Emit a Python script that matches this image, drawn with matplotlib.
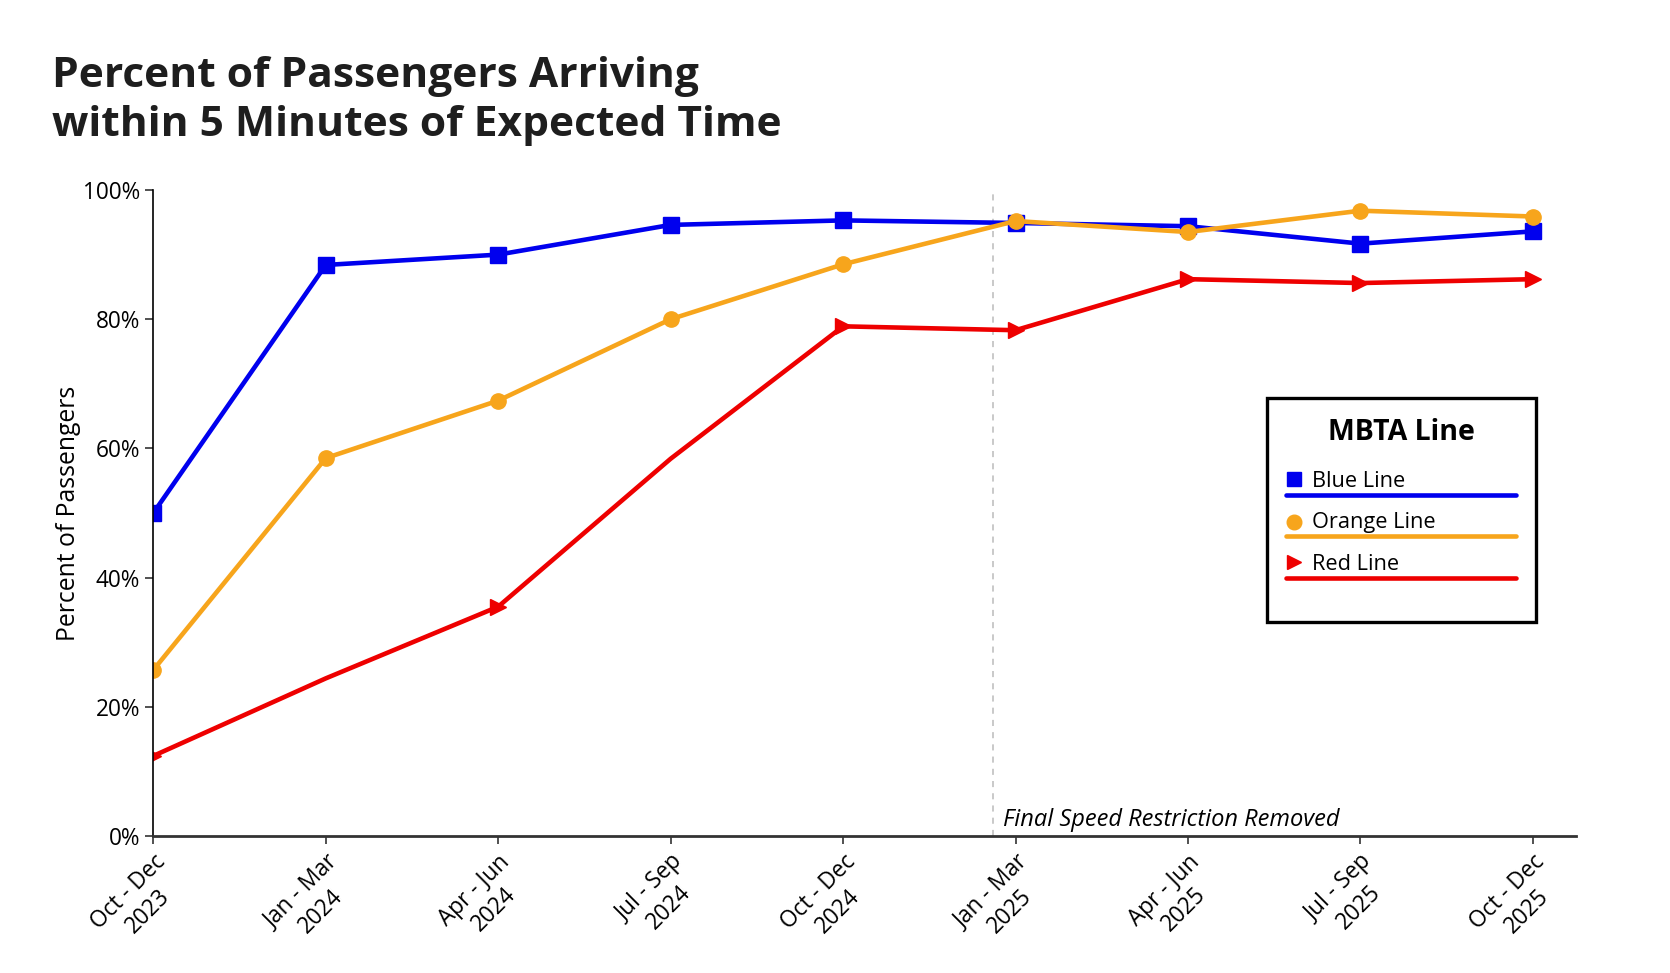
import matplotlib.pyplot as plt
from matplotlib.patches import Rectangle

plt.rcParams['font.family'] = ['Open Sans', 'DejaVu Sans']

# dados
trimestres = ['Oct - Dec\n2023', 'Jan - Mar\n2024', 'Apr - Jun\n2024', 'Jul - Sep\n2024', 'Oct - Dec\n2024',
              'Jan - Mar\n2025', 'Apr - Jun\n2025', 'Jul - Sep\n2025', 'Oct - Dec\n2025']
blue_line = [50.0, 88.4, 90.0, 94.6, 95.3, 94.9, 94.4, 91.7, 93.6]
orange_line = [25.7, 58.5, 67.4, 80.0, 88.5, 95.2, 93.5, 96.8, 95.9]
red_line = [12.4, 24.4, 35.5, 58.4, 78.9, 78.3, 86.2, 85.6, 86.2]
red_marcadores = [0, 2, 4, 5, 6, 7, 8]
yticks = [0, 20, 40, 60, 80, 100]
data_restricao = 4.87

azul = '#0000ee'
laranja = '#f7a51c'
vermelho = '#ee0000'

fig = plt.figure(figsize=(16.7, 9.73), dpi=100)
ax = fig.add_axes([0.0918, 0.1408, 0.8519, 0.6639])

x = list(range(len(trimestres)))
ax.plot(x, blue_line, color=azul, lw=3.3, marker='s', markersize=11)
ax.plot(x, orange_line, color=laranja, lw=3.3, marker='o', markersize=11)
ax.plot(x, red_line, color=vermelho, lw=3.3, marker='>', markersize=12, markevery=red_marcadores)

ax.axvline(data_restricao, color='#bbbbbb', lw=1.1, dashes=(4, 4), zorder=0)
ax.text(data_restricao + 0.06, 1.5, 'Final Speed Restriction Removed', style='italic',
        fontsize=17, va='baseline', ha='left')

ax.set_xlim(0, 8.25)
ax.set_ylim(0, 100)
ax.set_xticks(x)
ax.set_xticklabels(trimestres, rotation=45, ha='right', va='top', rotation_mode='anchor',
                   multialignment='center', fontsize=16.3)
ax.set_yticks(yticks)
ax.set_yticklabels([f'{v}%' for v in yticks], fontsize=16.3)
ax.tick_params(axis='both', length=6, width=1.2, color='#333333')
ax.tick_params(axis='x', pad=4)

ax.spines['top'].set_visible(False)
ax.spines['right'].set_visible(False)
ax.spines['left'].set_linewidth(1.2)
ax.spines['bottom'].set_linewidth(2)
ax.spines['bottom'].set_color('#333333')

ax.set_ylabel('Percent of Passengers', fontsize=17.8, labelpad=1)

fig.text(0.031, 0.9425, 'Percent of Passengers Arriving\nwithin 5 Minutes of Expected Time',
         fontsize=30.6, fontweight='bold', color='#1e1e1e', va='top', ha='left', linespacing=1.25)

# legenda desenhada a mao
caixa = Rectangle((0.7826, 0.3317), 0.1893, 0.3459, transform=ax.transAxes, fill=True,
                  facecolor='white', edgecolor='black', lw=2.4, zorder=5)
ax.add_patch(caixa)
ax.text(0.8775, 0.613, 'MBTA Line', transform=ax.transAxes, fontsize=20.5, fontweight='bold',
        ha='center', va='baseline', zorder=6)

itens = [('Blue Line', azul, 's', 0.5522, 0.5407, 0.5279),
         ('Orange Line', laranja, 'o', 0.4856, 0.4763, 0.4644),
         ('Red Line', vermelho, '>', 0.4246, 0.4118, 0.3998)]
for nome, cor, marcador, ym, yt, yl in itens:
    ax.plot([0.8018], [ym], marker=marcador, color=cor, markersize=10.5, transform=ax.transAxes,
            clip_on=False, zorder=6, linestyle='none')
    ax.text(0.8142, yt, nome, transform=ax.transAxes, fontsize=15.7, va='baseline', ha='left', zorder=6)
    ax.plot([0.7962, 0.9578], [yl, yl], color=cor, lw=3.3, solid_capstyle='round',
            transform=ax.transAxes, clip_on=False, zorder=6)

plt.savefig('out.png', dpi=100)
